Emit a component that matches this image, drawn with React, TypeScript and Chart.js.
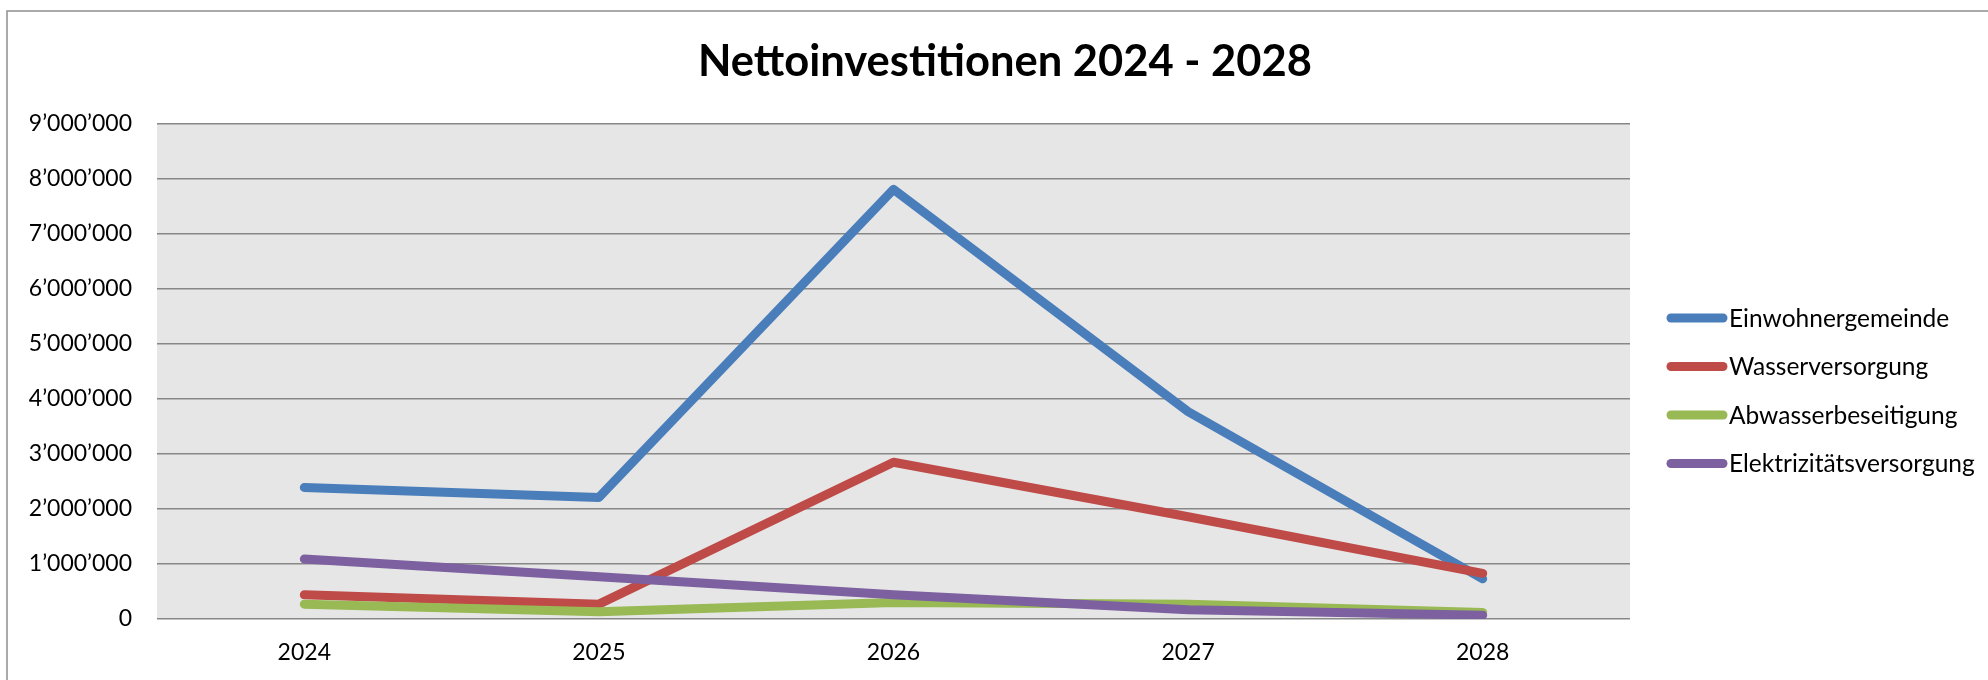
import React, { useEffect, useRef } from "react";
import { Chart, registerables } from "chart.js";

Chart.register(...registerables);

const categories = ["2024", "2025", "2026", "2027", "2028"];
const seriesNames = ["Einwohnergemeinde", "Wasserversorgung", "Abwasserbeseitigung", "Elektrizitätsversorgung"];
const einwohnergemeinde = [2390000, 2210000, 7810000, 3770000, 730000];
const wasserversorgung = [440000, 270000, 2850000, 1860000, 830000];
const abwasserbeseitigung = [270000, 130000, 300000, 270000, 120000];
const elektrizitaetsversorgung = [1090000, 770000, 440000, 170000, 70000];
const seriesColors = ["#4A7EBB", "#BE4B48", "#98B954", "#7D60A0"];
const yTicks = { min: 0, max: 9000000, step: 1000000 };
const titleText = "Nettoinvestitionen 2024 - 2028";

const FONT = "Lato, 'Open Sans', 'Noto Sans', sans-serif";

function fmt(v: number): string {
  return String(Math.round(v)).replace(/\B(?=(\d{3})+(?!\d))/g, "\u2019");
}

const framePlugin = {
  id: "frameAndBg",
  beforeDraw(chart: any) {
    const { ctx, chartArea } = chart;
    ctx.save();
    ctx.fillStyle = "#ffffff";
    ctx.fillRect(0, 0, chart.width, chart.height);
    ctx.strokeStyle = "#8f8f8f";
    ctx.lineWidth = 1.5;
    ctx.strokeRect(7, 11, chart.width + 20, chart.height + 20);
    ctx.fillStyle = "#E6E6E6";
    ctx.fillRect(chartArea.left, chartArea.top, chartArea.right - chartArea.left, chartArea.bottom - chartArea.top);
    ctx.restore();
  },
  afterDraw(chart: any) {
    const { ctx, chartArea } = chart;
    ctx.save();
    // title
    ctx.fillStyle = "#000000";
    ctx.font = `bold 43.5px ${FONT}`;
    ctx.textAlign = "center";
    ctx.textBaseline = "middle";
    ctx.fillText(titleText, 1005, 62);
    // legend
    const lx = chartArea.right + 37;
    const ly = 318;
    chart.data.datasets.forEach((ds: any, i: number) => {
      const y = ly + i * 48.5;
      ctx.strokeStyle = ds.borderColor;
      ctx.lineWidth = 9;
      ctx.lineCap = "round";
      ctx.beginPath();
      ctx.moveTo(lx + 4, y);
      ctx.lineTo(lx + 56, y);
      ctx.stroke();
      ctx.fillStyle = "#000000";
      ctx.font = `24.5px ${FONT}`;
      ctx.textAlign = "left";
      ctx.textBaseline = "middle";
      ctx.fillText(ds.label, lx + 62, y + 1);
    });
    ctx.restore();
  },
};

export default function App() {
  const ref = useRef<HTMLCanvasElement | null>(null);
  useEffect(() => {
    if (!ref.current) return;
    const values = [einwohnergemeinde, wasserversorgung, abwasserbeseitigung, elektrizitaetsversorgung];
    const chart = new Chart(ref.current, {
      type: "line",
      data: {
        labels: categories,
        datasets: values.map((v, i) => ({
          label: seriesNames[i],
          data: v,
          borderColor: seriesColors[i],
          backgroundColor: seriesColors[i],
          borderWidth: 9,
          borderCapStyle: "round",
          borderJoinStyle: "round",
          pointRadius: 0,
          pointHoverRadius: 0,
          tension: 0,
          fill: false,
          order: values.length - i,
        })),
      },
      options: {
        animation: false,
        responsive: false,
        devicePixelRatio: 1,
        layout: { padding: { left: 0, right: 358, top: 124, bottom: 0 } },
        plugins: {
          legend: { display: false },
          title: { display: false },
          tooltip: { enabled: false },
        },
        scales: {
          x: {
            offset: true,
            grid: { display: false, drawTicks: false },
            border: { display: false },
            ticks: { color: "#000", font: { family: FONT, size: 23 }, padding: 20 },
            afterFit(scale: any) {
              scale.height = 61;
            },
          },
          y: {
            min: yTicks.min,
            max: yTicks.max,
            grid: { color: "#878787", lineWidth: 1.5, drawTicks: false },
            border: { display: false },
            ticks: {
              stepSize: yTicks.step,
              color: "#000",
              font: { family: FONT, size: 23 },
              padding: 25,
              callback: (v: any) => fmt(Number(v)),
            },
            afterFit(scale: any) {
              scale.width = 157;
            },
          },
        },
      },
      plugins: [framePlugin],
    } as any);
    return () => chart.destroy();
  }, []);
  return (
    <canvas
      ref={ref}
      width={1988}
      height={680}
      style={{ position: "absolute", left: 0, top: 0, display: "block", width: 1988, height: 680 }}
    />
  );
}
